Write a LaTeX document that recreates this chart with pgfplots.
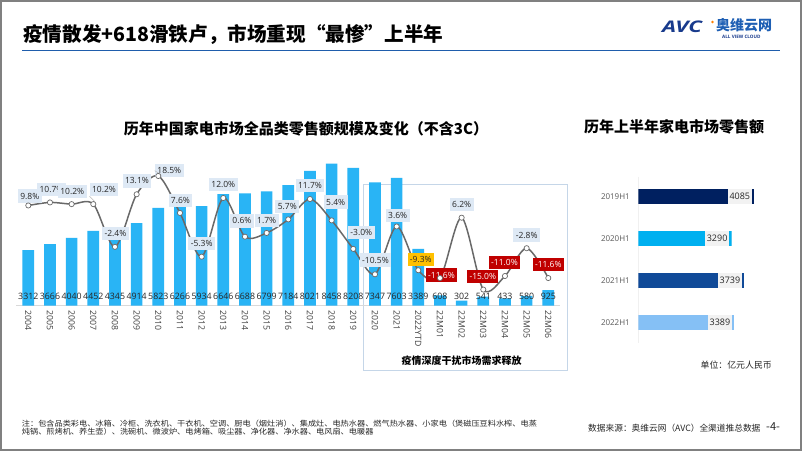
\documentclass[border=0pt]{standalone}
\usepackage{pgfplots}
\pgfplotsset{compat=1.18}
\usepackage{graphicx}
\usepackage{fontspec}
\setmainfont{Open Sans}
\newfontfamily\cjk{Noto Sans CJK SC}
\definecolor{barblue}{RGB}{41,180,245}
\definecolor{labbg}{RGB}{222,233,245}
\definecolor{redl}{RGB}{192,0,0}
\definecolor{yell}{RGB}{255,192,0}
\definecolor{lgray}{RGB}{105,105,105}
\definecolor{boxc}{RGB}{197,214,232}
\definecolor{navyb}{RGB}{0,32,96}
\definecolor{cyanb}{RGB}{0,176,240}
\definecolor{midb}{RGB}{16,74,152}
\definecolor{lightb}{RGB}{133,192,245}
\definecolor{tline}{RGB}{31,93,172}
\definecolor{framec}{RGB}{128,128,128}
\definecolor{txt}{RGB}{38,38,38}
\definecolor{tickc}{RGB}{64,64,64}
\definecolor{tickg}{RGB}{89,89,89}
\definecolor{logob}{RGB}{24,58,140}
\definecolor{logoc}{RGB}{30,95,180}
\tikzset{
  pl/.style={font=\fontsize{8.5}{10}\selectfont, inner xsep=2.4pt, inner ysep=3.2pt, text height=6.4pt, text depth=0.4pt},
  lb/.style={pl, fill=labbg, text=txt},
  rdb/.style={pl, fill=redl, text=white},
  ylb/.style={pl, fill=yell, text=txt},
}
\newcommand\lab[6]{\node[#5] (#6) at ([shift={(#3pt,#4pt)}]axis cs:#1) {#2};}
\begin{document}
\begin{tikzpicture}
\useasboundingbox (0pt,0pt) rectangle (802pt,451pt);
\begin{scope}[x=1pt,y=1pt]
\fill[white] (0,0) rectangle (802,451);
% slide title
\node[anchor=west, inner sep=0pt] at (23,416) {\cjk\bfseries\fontsize{19.6}{24}\selectfont 疫情散发+618滑铁卢，市场重现“最惨”上半年};
\draw[tline, line width=1.5pt] (22,400.5) -- (780,400.5);
% logo
\node[anchor=west, inner sep=0pt, text=logob] at (662,424.5) {\scalebox{1.4}[1]{\bfseries\itshape\fontsize{16}{16}\selectfont AVC}};
\fill[orange] (712.5,429) circle (1.3);
\node[anchor=west, inner sep=0pt, text=logoc] at (716,426) {\cjk\bfseries\fontsize{14}{14}\selectfont 奥维云网};
\node[anchor=west, inner sep=0pt, text=logob] at (722,413.8) {\bfseries\fontsize{4.6}{5}\selectfont ALL VIEW CLOUD};
% chart titles
\node[inner sep=0pt] at (306,322) {\cjk\bfseries\fontsize{15}{18}\selectfont 历年中国家电市场全品类零售额规模及变化（不含3C）};
\node[inner sep=0pt] at (674,324.3) {\cjk\bfseries\fontsize{15}{18}\selectfont 历年上半年家电市场零售额};
% highlight box
\draw[boxc, line width=0.9pt] (363.3,81) rectangle (567.3,267);
\node[inner sep=0pt] at (461.7,90.3) {\cjk\bfseries\fontsize{10}{12}\selectfont 疫情深度干扰市场需求释放};
% unit, footnote, source
\node[anchor=east, inner sep=0pt, text=txt] at (772,86) {\cjk\fontsize{8.9}{10}\selectfont 单位：亿元人民币};
\node[anchor=west, inner sep=0pt, text=txt] at (21.7,27.7) {\scalebox{1.09}[1]{\cjk\fontsize{7.5}{8}\selectfont 注：包含品类彩电、冰箱、冷柜、洗衣机、干衣机、空调、厨电（烟灶消）、集成灶、电热水器、燃气热水器、小家电（煲磁压豆料水榨、电蒸}};
\node[anchor=west, inner sep=0pt, text=txt] at (21.7,19.3) {\scalebox{1.09}[1]{\cjk\fontsize{7.5}{8}\selectfont 炖锅、煎烤机、养生壶）、洗碗机、微波炉、电烤箱、吸尘器、净化器、净水器、电风扇、电暖器}};
\node[anchor=west, inner sep=0pt, text=txt] at (588,23.3) {\cjk\fontsize{8.7}{10}\selectfont 数据来源：奥维云网（AVC）全渠道推总数据};
\node[anchor=west, inner sep=0pt, text=txt] at (766,24) {\cjk\fontsize{11}{12}\selectfont -4-};
\end{scope}
% main bars
\begin{axis}[
  at={(16pt,145.3pt)}, anchor=south west, scale only axis,
  width=544pt, height=168pt,
  xmin=-0.568, xmax=24.54, ymin=0, ymax=10000,
  axis x line*=bottom, axis y line=none,
  x axis line style={draw=gray!30, line width=0.6pt},
  xtick={0,...,24},
  xticklabels={2004,2005,2006,2007,2008,2009,2010,2011,2012,2013,2014,2015,2016,2017,2018,2019,2020,2021,2022YTD,22M01,22M02,22M03,22M04,22M05,22M06},
  xticklabel style={yshift=-5pt, rotate=-90, anchor=west, inner sep=0pt, font=\fontsize{8.7}{10}\selectfont, text=tickc},
  major tick length=0pt, ytick=\empty,
  clip=false,
]
\addplot[ybar, bar width=11.7pt, fill=barblue, draw=none] coordinates {(0,3312) (1,3666) (2,4040) (3,4452) (4,4345) (5,4914) (6,5823) (7,6266) (8,5934) (9,6646) (10,6688) (11,6799) (12,7184) (13,8021) (14,8458) (15,8208) (16,7347) (17,7603) (18,3389) (19,608) (20,302) (21,541) (22,433) (23,580) (24,925)};
\addplot[draw=none, mark=none, nodes near coords, point meta=explicit symbolic,
  every node near coord/.append style={anchor=south, inner sep=0pt, yshift=6.4pt, font=\fontsize{8.8}{10}\selectfont, text=txt}]
  coordinates {(0,0)[3312] (1,0)[3666] (2,0)[4040] (3,0)[4452] (4,0)[4345] (5,0)[4914] (6,0)[5823] (7,0)[6266] (8,0)[5934] (9,0)[6646] (10,0)[6688] (11,0)[6799] (12,0)[7184] (13,0)[8021] (14,0)[8458] (15,0)[8208] (16,0)[7347] (17,0)[7603] (18,0)[3389] (19,0)[608] (20,0)[302] (21,0)[541] (22,0)[433] (23,0)[580] (24,0)[925]};
\end{axis}
% growth line
\begin{axis}[
  at={(16pt,145.3pt)}, anchor=south west, scale only axis,
  width=544pt, height=168pt,
  xmin=-0.568, xmax=24.54, ymin=-19.76, ymax=29.79,
  axis lines=none, clip=false,
]
\addplot[smooth, tension=0.5, color=lgray, line width=1.5pt, mark=*, mark size=2.6pt, mark options={fill=white, draw=lgray, line width=0.7pt, solid}]
  coordinates {(0,9.8) (1,10.7) (2,10.2) (3,10.2) (4,-2.4) (5,13.1) (6,18.5) (7,7.6) (8,-5.3) (9,12.0) (10,0.6) (11,1.7) (12,5.7) (13,11.7) (14,5.4) (15,-3.0) (16,-10.5) (17,3.6) (18,-9.3) (19,-11.6) (20,6.2) (21,-15.0) (22,-11.0) (23,-2.8) (24,-11.6)};
\lab{0,9.8}{9.8\%}{1.5}{9.4}{lb}{l0}
\lab{1,10.7}{10.7\%}{1.5}{12.7}{lb}{l1}
\lab{2,10.2}{10.2\%}{0.6}{12.6}{lb}{l2}
\lab{3,10.2}{10.2\%}{10.7}{14.7}{lb}{l3}
\lab{4,-2.4}{-2.4\%}{0.5}{13.4}{lb}{l4}
\lab{5,13.1}{13.1\%}{0.3}{13.3}{lb}{l5}
\lab{6,18.5}{18.5\%}{11}{5.3}{lb}{l6}
\lab{7,7.6}{7.6\%}{0.5}{12.7}{lb}{l7}
\lab{8,-5.3}{-5.3\%}{0}{13.4}{lb}{l8}
\lab{9,12.0}{12.0\%}{0}{13.3}{lb}{l9}
\lab{10,0.6}{0.6\%}{-3}{15.7}{lb}{l10}
\lab{11,1.7}{1.7\%}{0}{12.7}{lb}{l11}
\lab{12,5.7}{5.7\%}{-1}{12.6}{lb}{l12}
\lab{13,11.7}{11.7\%}{0}{13.3}{lb}{l13}
\lab{14,5.4}{5.4\%}{4}{18.3}{lb}{l14}
\lab{15,-3.0}{-3.0\%}{8}{16.3}{lb}{l15}
\lab{16,-10.5}{-10.5\%}{0.5}{14.3}{lb}{l16}
\lab{17,3.6}{3.6\%}{1}{10.7}{lb}{l17}
\lab{18,-9.3}{-9.3\%}{2.5}{11}{ylb}{l18}
\lab{19,-11.6}{-11.6\%}{1.5}{3}{rdb}{l19}
\lab{20,6.2}{6.2\%}{0}{13.4}{lb}{l20}
\lab{21,-15.0}{-15.0\%}{-0.5}{12.8}{rdb}{l21}
\lab{22,-11.0}{-11.0\%}{-0.5}{13.3}{rdb}{l22}
\lab{23,-2.8}{-2.8\%}{0}{13.2}{lb}{l23}
\lab{24,-11.6}{-11.6\%}{0}{13.7}{rdb}{l24}
\draw[gray!55, line width=0.5pt] ([shift={(1.5pt,2.5pt)}]axis cs:3,10.2) -- (l3.south west);
\draw[gray!55, line width=0.5pt] ([shift={(1.5pt,2pt)}]axis cs:6,18.5) -- (l6.west);
\end{axis}
% H1 bars
\begin{axis}[
  at={(638.3pt,107.7pt)}, anchor=south west, scale only axis,
  width=141.7pt, height=166.6pt,
  xmin=954, xmax=5917, ymin=-0.477, ymax=3.496, y dir=reverse,
  axis x line=none, axis y line*=left,
  y axis line style={draw=gray!12, line width=1.2pt},
  ytick={0,1,2,3}, yticklabels={2019H1,2020H1,2021H1,2022H1},
  yticklabel style={font=\fontsize{8}{9}\selectfont, text=tickg, xshift=-5pt},
  major tick length=0pt,
  hb/.style={xbar, bar shift=0pt, bar width=14.6pt, draw=none, fill=#1,
    nodes near coords, point meta=explicit symbolic,
    every node near coord/.style={anchor=west, fill=gray!10, inner xsep=1.6pt, inner ysep=0pt,
      minimum height=14.6pt, text=txt, font=\fontsize{9}{10}\selectfont,
      path picture={\fill[#1] ([xshift=-2.5pt]path picture bounding box.north east) rectangle (path picture bounding box.south east);}}},
]
\addplot[hb=navyb] coordinates {(4085,0)[4085\kern2.6pt]};
\addplot[hb=cyanb] coordinates {(3290,1)[3290\kern2.6pt]};
\addplot[hb=midb] coordinates {(3739,2)[3739\kern2.6pt]};
\addplot[hb=lightb] coordinates {(3389,3)[3389\kern2.6pt]};
\end{axis}
% frame
\draw[framec, line width=2pt] (1pt,1.2pt) rectangle (801pt,450pt);
\end{tikzpicture}
\end{document}
